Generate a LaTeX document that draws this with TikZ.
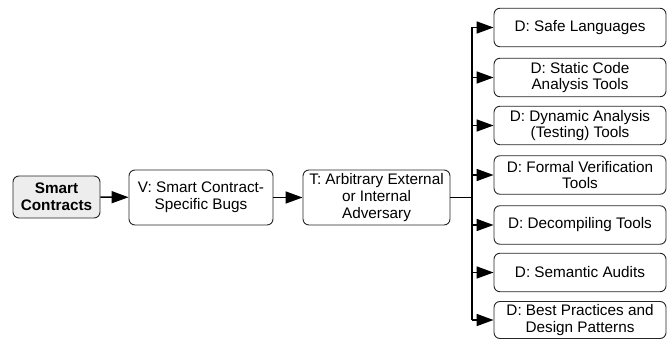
\documentclass[tikz,border=0pt]{standalone}
\usepackage{fontspec}
\setmainfont{Liberation Sans}
\usetikzlibrary{arrows.meta}
\begin{document}
\begin{tikzpicture}[x=1pt,y=-1pt,
  box/.style={draw=black!85, line width=0.9pt, rounded corners=6pt, align=center,
    inner sep=0pt, font=\fontsize{15.3}{16.6}\selectfont},
  dbox/.style={box, minimum width=172pt, minimum height=38.5pt},
  arr/.style={line width=1.6pt, -{Triangle[length=17pt,width=12pt]}},
  link/.style={line width=1.6pt}]
\useasboundingbox (0,0) rectangle (668,339);
\node[box, fill=black!7, minimum width=87pt, minimum height=42pt, font=\fontsize{15.3}{16.6}\selectfont\bfseries] (sc) at (56.5,197) {Smart\\Contracts};
\node[box, minimum width=144pt, minimum height=55pt] (v) at (201,197.5) {V: Smart Contract-\\Specific Bugs};
\node[box, minimum width=147pt, minimum height=55pt] (t) at (376.5,197.5) {T: Arbitrary External\\or Internal\\Adversary};
\node[dbox] (d1) at (580,27.5) {D: Safe Languages};
\node[dbox] (d2) at (580,77.5) {D: Static Code\\Analysis Tools};
\node[dbox] (d3) at (580,125.5) {D: Dynamic Analysis\\(Testing) Tools};
\node[dbox] (d4) at (580,175) {D: Formal Verification\\Tools};
\node[dbox] (d5) at (580,225) {D: Decompiling Tools};
\node[dbox] (d6) at (580,272.5) {D: Semantic Audits};
\node[dbox, minimum height=37pt] (d7) at (580,320) {D: Best Practices and\\Design Patterns};
\coordinate (trunk) at (472,198);
\draw[arr] (sc) -- (v);
\draw[arr] (v) -- (t);
\draw[link] (t.east) -- (t.east -| trunk);
\draw[line width=1.4pt] (d1.west -| trunk) -- (d7.west -| trunk);
\foreach \d in {d1,d2,d3,d4,d5,d6,d7}
  \draw[arr] (\d.west -| trunk) -- (\d.west);
\end{tikzpicture}
\end{document}
